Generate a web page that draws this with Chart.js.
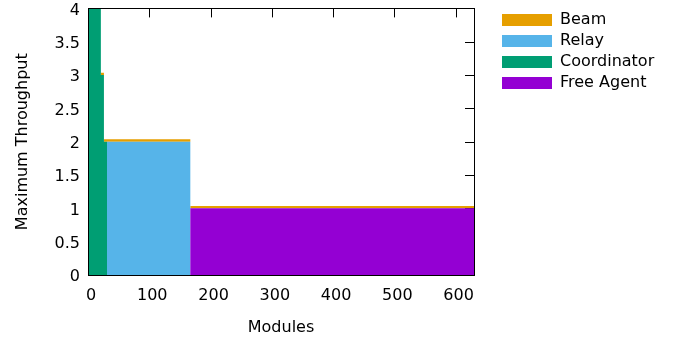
<!DOCTYPE html>
<html>
<head>
<meta charset="utf-8">
<script src="https://cdn.jsdelivr.net/npm/chart.js@4"></script>
<style>
  html, body { margin: 0; padding: 0; background: #fff; }
</style>
</head>
<body>
<canvas id="chart" width="685" height="339"></canvas>
<script>
// module counts where the step changes
const modules = [0, 21, 26, 31, 167, 630];
// throughput per role, stacked from bottom to top
const freeAgent = [0, 0, 0, 0, 1, 1];
const coordinator = [4, 3, 2, 0, 0, 0];
const relay = [0, 0, 0, 2, 0, 0];
const beam = [0.035, 0.035, 0.035, 0.035, 0.035, 0.035];

const xTicks = [0, 100, 200, 300, 400, 500, 600];
const yTicks = [0, 0.5, 1, 1.5, 2, 2.5, 3, 3.5, 4];
const yLabels = ['0', '0.5', '1', '1.5', '2', '2.5', '3', '3.5', '4'];

const FONT = 'DejaVu Sans';

function pts(values) {
  return modules.map((m, i) => ({x: m, y: values[i]}));
}

function series(label, values, color, fill) {
  return {
    label: label,
    data: pts(values),
    backgroundColor: color,
    borderColor: color,
    borderWidth: 0,
    pointRadius: 0,
    stepped: true,
    fill: fill,
    yAxisID: 'y'
  };
}

// gnuplot style box with inward ticks
const frame = {
  id: 'frame',
  beforeDatasetsDraw(chart) {
    const {ctx, chartArea: a, scales: {x, y}} = chart;
    ctx.save();
    ctx.strokeStyle = '#000';
    ctx.lineWidth = 1;
    ctx.beginPath();
    xTicks.forEach(v => {
      const px = Math.round(x.getPixelForValue(v)) + 0.5;
      ctx.moveTo(px, a.bottom); ctx.lineTo(px, a.bottom - 9);
      ctx.moveTo(px, a.top); ctx.lineTo(px, a.top + 9);
    });
    yTicks.forEach(v => {
      const py = Math.round(y.getPixelForValue(v)) + 0.5;
      ctx.moveTo(a.left, py); ctx.lineTo(a.left + 9, py);
      ctx.moveTo(a.right, py); ctx.lineTo(a.right - 9, py);
    });
    ctx.stroke();
    ctx.restore();
  },
  afterDatasetsDraw(chart) {
    const {ctx, chartArea: a} = chart;
    ctx.save();
    ctx.strokeStyle = '#000';
    ctx.lineWidth = 1;
    ctx.strokeRect(Math.round(a.left) + 0.5, Math.round(a.top) + 0.5,
      Math.round(a.right - a.left), Math.round(a.bottom - a.top));
    ctx.restore();
  }
};

const beamSet = series('Beam', beam, '#e69f00', '-1');
beamSet.clip = {left: 0, top: 1, right: 1, bottom: 0};

new Chart(document.getElementById('chart'), {
  type: 'line',
  data: {
    datasets: [
      series('Free Agent', freeAgent, '#9400d3', 'origin'),
      series('Coordinator', coordinator, '#009e73', '-1'),
      series('Relay', relay, '#56b4e9', '-1'),
      beamSet
    ]
  },
  options: {
    responsive: false,
    animation: false,
    layout: { padding: { top: 7, right: 28, bottom: 0, left: 0 } },
    plugins: {
      legend: {
        position: 'right',
        align: 'start',
        reverse: true,
        maxWidth: 160,
        labels: {
          boxWidth: 50,
          boxHeight: 12,
          padding: 5,
          color: '#000',
          font: { family: FONT, size: 16 }
        }
      },
      tooltip: { enabled: false }
    },
    scales: {
      x: {
        type: 'linear',
        min: 0,
        max: 630,
        grid: { display: false, drawTicks: false },
        border: { display: false },
        afterBuildTicks: s => { s.ticks = xTicks.map(v => ({value: v})); },
        afterFit: s => { s.height = 64; },
        ticks: {
          padding: 11,
          labelOffset: 3,
          color: '#000',
          font: { family: FONT, size: 16 },
          callback: v => String(v)
        },
        title: {
          display: true,
          text: 'Modules',
          color: '#000',
          font: { family: FONT, size: 16 },
          padding: { top: 0, bottom: 2 }
        }
      },
      y: {
        type: 'linear',
        position: 'left',
        stacked: true,
        min: 0,
        max: 4,
        grid: { display: false, drawTicks: false },
        border: { display: false },
        afterBuildTicks: s => { s.ticks = yTicks.map(v => ({value: v})); },
        afterFit: s => { s.width = 88; },
        ticks: {
          padding: 8,
          labelOffset: 2,
          color: '#000',
          font: { family: FONT, size: 16, lineHeight: 0.05 },
          callback: v => yLabels[yTicks.indexOf(v)]
        },
        title: {
          display: true,
          text: 'Maximum Throughput',
          color: '#000',
          font: { family: FONT, size: 16 },
          padding: { top: 13, bottom: 0 }
        }
      },
      gap: {
        type: 'linear',
        position: 'right',
        grid: { display: false, drawTicks: false },
        border: { display: false },
        ticks: { display: false },
        afterFit: s => { s.width = 23; }
      }
    }
  },
  plugins: [frame]
});
</script>
</body>
</html>
